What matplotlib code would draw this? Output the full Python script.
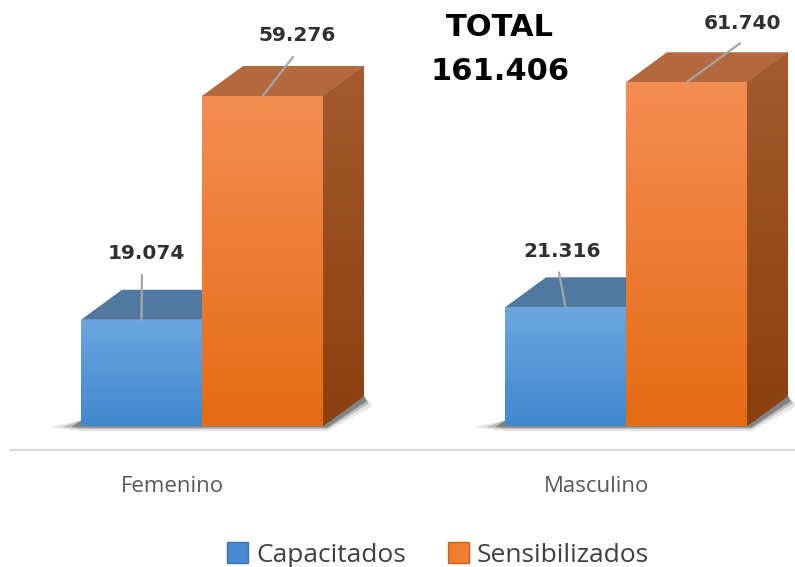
import numpy as np
import matplotlib.pyplot as plt
from matplotlib.patches import Polygon, Patch
from matplotlib.colors import LinearSegmentedColormap

# datos
categorias = ['Femenino', 'Masculino']
capacitados = [19.074, 21.316]
sensibilizados = [59.276, 61.740]
etiq_cap = ['19.074', '21.316']
etiq_sen = ['59.276', '61.740']
total = ['TOTAL', '161.406']

W = 0.2854   # ancho de barra
DX = 0.0967  # profundidad x
DY = 5.39    # profundidad y

est_cap = dict(front=('#6ba6e0', '#4188cd'), top='#51799f', side=('#3e6d9b', '#2c5985'),
               leg='#4a8ad1', leg_ec='#3a72b0')
est_sen = dict(front=('#f48d52', '#e56b15'), top='#b3693d', side=('#a35a2e', '#8a3f0f'),
               leg='#ed7d31', leg_ec='#c96418')

fig = plt.figure(figsize=(7.95, 5.67), dpi=100)
ax = fig.add_axes([0, 0, 1, 1])
ax.set_xlim(-0.4764, 1.3986)
ax.set_ylim(-25.33, 76.52)
ax.axis('off')


def gradiente(x0, x1, y0, y1, c_top, c_bot, clip, z):
    cmap = LinearSegmentedColormap.from_list('g', [c_bot, c_top])
    grad = np.linspace(0, 1, 256).reshape(-1, 1)
    im = ax.imshow(grad, cmap=cmap, extent=[x0, x1, y0, y1], origin='lower',
                   aspect='auto', zorder=z, interpolation='bicubic')
    im.set_clip_path(clip)


def barra_3d(rect, est, z):
    x0 = rect.get_x()
    x1 = x0 + rect.get_width()
    h = rect.get_height()
    rect.set_zorder(z)
    gradiente(x0, x1, 0, h, est['front'][0], est['front'][1], rect, z + 0.1)
    top = Polygon([(x0, h), (x1, h), (x1 + DX, h + DY), (x0 + DX, h + DY)],
                  closed=True, fc=est['top'], ec='none', zorder=z)
    ax.add_patch(top)
    side = Polygon([(x1, 0), (x1 + DX, DY), (x1 + DX, h + DY), (x1, h)],
                   closed=True, fc=est['side'][1], ec='none', zorder=z)
    ax.add_patch(side)
    gradiente(x1, x1 + DX, 0, h + DY, est['side'][0], est['side'][1], side, z + 0.1)


x = np.arange(len(categorias))

# sombras
for g in x:
    for k, a in [(1.0, 0.12), (0.6, 0.22), (0.3, 0.38)]:
        sh = Polygon([(g - W - 0.075 * k, -0.2), (g - W, 1.0), (g + W + DX, DY),
                      (g + W + DX + 0.02 * k, DY - 0.6 - 1.2 * k),
                      (g + W + 0.01, -0.9 * k), (g - W, -0.9 * k)],
                     closed=True, fc='#2a2a2a', ec='none', alpha=a, zorder=1)
        ax.add_patch(sh)

b_cap = ax.bar(x - W, capacitados, width=W, align='edge', color=est_cap['front'][1])
b_sen = ax.bar(x, sensibilizados, width=W, align='edge', color=est_sen['front'][1])
for i in range(len(x)):
    barra_3d(b_cap[i], est_cap, 2 + 4 * i)
    barra_3d(b_sen[i], est_sen, 4 + 4 * i)

# etiquetas con lineas guia
lin_cap = [(0.5, 45), (-6.5, 35)]
txt_cap = [(4.5, 66), (-3.5, 56)]
lin_sen = [(30.5, 39), (53.5, 39)]
txt_sen = [(35, 60), (56.5, 59)]
for bars, etq, lins, txts in [(b_cap, etiq_cap, lin_cap, txt_cap),
                              (b_sen, etiq_sen, lin_sen, txt_sen)]:
    for r, t, ln, tx in zip(bars, etq, lins, txts):
        xy = (r.get_x() + r.get_width() / 2, r.get_height())
        ax.annotate('', xy=xy, xytext=ln, textcoords='offset pixels',
                    arrowprops=dict(arrowstyle='-', color='#a6a6a6', lw=1.6,
                                    shrinkA=0, shrinkB=0), zorder=20)
        ax.annotate(t, xy=xy, xytext=tx, textcoords='offset pixels', ha='center',
                    va='center', fontsize=14.5, fontweight='bold', color='#303030',
                    zorder=21)

# eje
ax.axhline(-4.31, xmin=11 / 795, xmax=1, color='#d9d9d9', lw=1.6, zorder=0)

for g, c in zip(x, categorias):
    ax.text(g - 0.07, -10.8, c, ha='center', va='center', fontsize=16,
            family='Open Sans', color='#595959')

fig.text(0.629, 1 - 27 / 567, total[0], ha='center', va='center', fontsize=22,
         fontweight='bold', color='black')
fig.text(0.629, 1 - 71 / 567, total[1], ha='center', va='center', fontsize=22,
         fontweight='bold', color='black')

handles = [Patch(fc=est_cap['leg'], ec=est_cap['leg_ec'], label='Capacitados'),
           Patch(fc=est_sen['leg'], ec=est_sen['leg_ec'], label='Sensibilizados')]
leg = fig.legend(handles=handles, loc='center', bbox_to_anchor=(0.551, 0.0212), ncol=2,
                 frameon=False, handlelength=0.8, handleheight=0.8, handletextpad=0.3,
                 columnspacing=1.6, prop=dict(family='Open Sans', size=19))
for t in leg.get_texts():
    t.set_color('#404040')

fig.savefig('out.png', dpi=100)
